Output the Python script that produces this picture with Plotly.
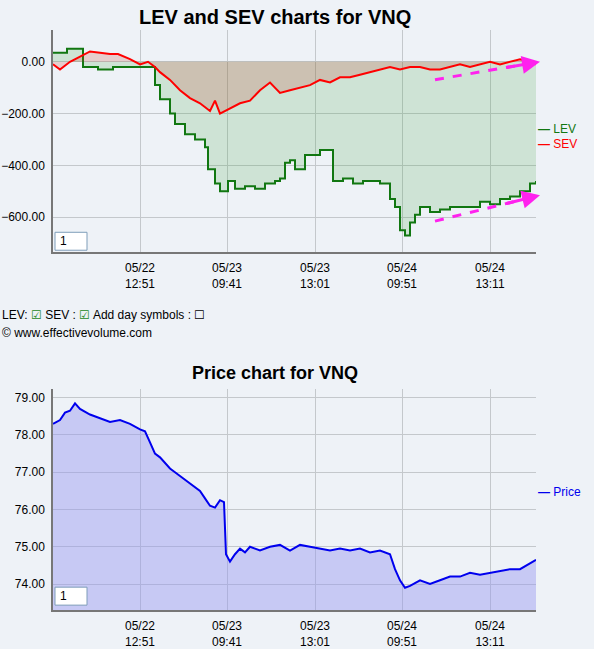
import plotly.graph_objects as go
from plotly.subplots import make_subplots

# time axis: position along the session axis (arbitrary units)
lev_t = [0, 13, 14, 27, 30, 42, 45, 60, 95, 102, 107, 117, 122, 132, 142, 152, 155, 162, 167, 175, 182, 192, 202, 212, 222, 227, 232, 237, 242, 252, 267, 277, 280, 290, 300, 310, 327, 337, 342, 347, 352, 357, 362, 367, 377, 387, 397, 407, 417, 427, 437, 447, 457, 467, 477, 483]
lev = [35, 35, 50, 50, -20, -20, -30, -20, -20, -90, -145, -200, -240, -280, -300, -330, -415, -470, -500, -460, -490, -480, -490, -470, -460, -450, -390, -380, -415, -360, -340, -340, -460, -450, -470, -460, -470, -530, -560, -650, -670, -620, -590, -560, -580, -570, -560, -560, -560, -540, -550, -530, -520, -500, -470, -460]
sev_t = [0, 7, 17, 27, 37, 47, 57, 65, 77, 87, 95, 102, 107, 117, 127, 137, 147, 157, 162, 167, 177, 187, 197, 207, 217, 227, 237, 247, 257, 267, 277, 287, 297, 307, 317, 327, 337, 347, 357, 367, 377, 387, 397, 407, 417, 427, 437, 447, 457, 467, 477, 483]
sev = [-10, -30, 0, 20, 40, 35, 30, 30, 10, -10, 0, -20, -40, -70, -110, -140, -160, -190, -150, -200, -180, -160, -150, -110, -80, -120, -110, -100, -90, -70, -80, -60, -60, -50, -40, -30, -20, -30, -20, -20, -30, -30, -20, -10, -20, -10, 0, -10, 0, 10, 0, -10]
price_t = [0, 7, 12, 17, 22, 27, 37, 47, 57, 67, 77, 87, 92, 97, 102, 107, 117, 127, 137, 147, 152, 157, 162, 167, 171, 173, 177, 182, 187, 192, 197, 207, 217, 227, 237, 247, 257, 267, 277, 287, 297, 307, 317, 327, 337, 342, 347, 352, 357, 367, 377, 387, 397, 407, 417, 427, 437, 447, 457, 467, 477, 483]
price = [78.30, 78.40, 78.60, 78.65, 78.85, 78.70, 78.55, 78.45, 78.35, 78.40, 78.30, 78.15, 78.10, 77.80, 77.50, 77.40, 77.10, 76.90, 76.70, 76.50, 76.30, 76.10, 76.05, 76.25, 76.20, 74.80, 74.60, 74.80, 74.95, 74.85, 75.00, 74.90, 75.00, 75.05, 74.90, 75.05, 75.00, 74.95, 74.90, 74.95, 74.90, 74.95, 74.85, 74.90, 74.80, 74.40, 74.10, 73.90, 73.95, 74.10, 74.00, 74.10, 74.20, 74.20, 74.30, 74.25, 74.30, 74.35, 74.40, 74.40, 74.55, 74.65]
tick_pos = [87, 174, 262, 349, 437]
tick_text = ['05/22<br>12:51', '05/23<br>09:41', '05/23<br>13:01', '05/24<br>09:51', '05/24<br>13:11']
arrow_sev = [(382, -69), (487, 0)]
arrow_lev = [(382, -615), (487, -515)]

H = 649.0
bg = '#eef2f7'
font = 'Liberation Sans, Arial'

fig = make_subplots(rows=2, cols=1, vertical_spacing=0.2)
fig.add_trace(go.Scatter(x=lev_t, y=lev, name='LEV', line=dict(color='#117711', width=2, shape='hv'),
                         fill='tozeroy', fillcolor='rgba(60,160,60,0.18)'), 1, 1)
fig.add_trace(go.Scatter(x=sev_t, y=sev, name='SEV', line=dict(color='#ff0000', width=2),
                         fill='tozeroy', fillcolor='rgba(200,60,40,0.2)'), 1, 1)
for a in (arrow_sev, arrow_lev):
    fig.add_trace(go.Scatter(x=[a[0][0], a[1][0]], y=[a[0][1], a[1][1]], mode='lines',
                             line=dict(color='#ff22ee', width=3, dash='dash')), 1, 1)
    fig.add_annotation(x=a[1][0], y=a[1][1], ax=a[0][0] + 70, ay=a[0][1] + (a[1][1] - a[0][1]) * 70 / 105,
                       xref='x', yref='y', axref='x', ayref='y', text='', showarrow=True,
                       arrowhead=2, arrowsize=1.2, arrowwidth=3, arrowcolor='#ff22ee', standoff=0)
fig.add_trace(go.Scatter(x=price_t, y=price, name='Price', line=dict(color='#0000ee', width=2),
                         fill='tozeroy', fillcolor='rgba(150,150,240,0.45)'), 2, 1)

axis = dict(showgrid=True, gridcolor='#c4c8cc', showline=True, linecolor='#777', linewidth=1.5,
            tickfont=dict(family=font, size=12, color='black'), zeroline=False, ticks='outside',
            ticklen=4, tickcolor=bg)
fig.update_xaxes(**axis, range=[0, 483], tickvals=tick_pos, ticktext=tick_text)
fig.update_yaxes(**axis, tickformat='.2f')
fig.update_layout(
    width=594, height=649, showlegend=False, paper_bgcolor=bg, plot_bgcolor=bg,
    margin=dict(l=53, r=58, t=0, b=0),
    xaxis=dict(domain=[0, 1]), yaxis=dict(domain=[1 - 253 / H, 1 - 30 / H], range=[-735, 123], tickvals=[0, -200, -400, -600]),
    xaxis2=dict(domain=[0, 1]), yaxis2=dict(domain=[1 - 612 / H, 1 - 390 / H], range=[73.30, 79.24], tickvals=[74, 75, 76, 77, 78, 79]),
)
texts = [
    ('<b>LEV and SEV charts for VNQ</b>', 0.46, 17, 20, 'black', 'center'),
    ('<b>Price chart for VNQ</b>', 0.46, 374, 18, 'black', 'center'),
    ('<b>—</b> LEV', 1.0, 129, 12, '#117711', 'left'),
    ('<b>—</b> SEV', 1.0, 144, 12, '#ff0000', 'left'),
    ('<b>—</b> Price', 1.0, 494, 12, '#0000ee', 'left'),
]
for t, x, y, s, c, al in texts:
    fig.add_annotation(text=t, xref='paper', yref='paper', x=x, y=1 - y / H, xanchor=al,
                       yanchor='middle', showarrow=False, font=dict(family=font, size=s, color=c))
fig.add_annotation(text='LEV: <span style="color:#228822">☑</span> SEV : <span style="color:#228822">☑</span> Add day symbols : ☐',
                   xref='paper', yref='paper', x=-53 / 483, y=1 - 316 / H, xanchor='left', yanchor='middle',
                   showarrow=False, font=dict(family=font, size=12, color='black'))
fig.add_annotation(text='© www.effectivevolume.com', xref='paper', yref='paper', x=-53 / 483, y=1 - 334 / H,
                   xanchor='left', yanchor='middle', showarrow=False, font=dict(family=font, size=12, color='black'))
for top in (233, 589):
    fig.add_shape(type='rect', xref='paper', yref='paper', x0=2 / 483, x1=34 / 483, y0=1 - (top + 18) / H, y1=1 - top / H,
                  fillcolor='white', line=dict(color='#7f9db9', width=1))
    fig.add_annotation(text='1', xref='paper', yref='paper', x=5 / 483, y=1 - (top + 9) / H, xanchor='left',
                       yanchor='middle', showarrow=False, font=dict(family=font, size=12, color='black'))
fig.write_html('out.html', config={'displayModeBar': False},
               post_script="document.body.style.margin='0';document.body.style.background='#eef2f7';")
